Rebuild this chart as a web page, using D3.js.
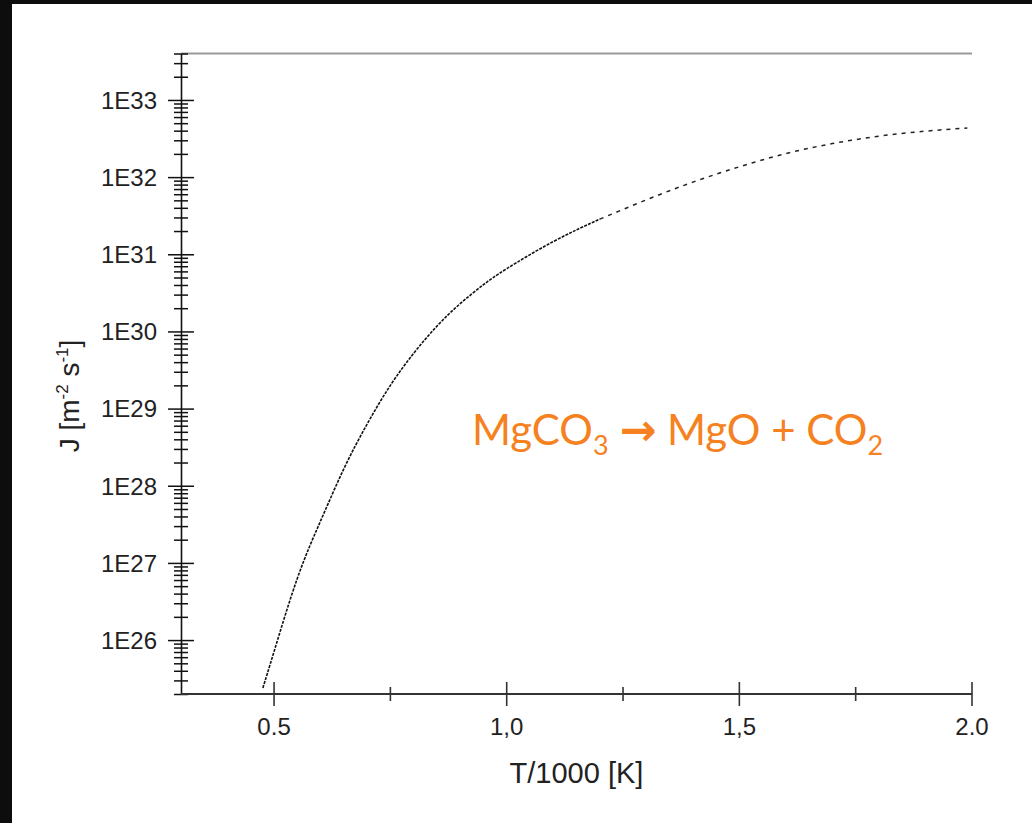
<!DOCTYPE html>
<html>
<head>
<meta charset="utf-8">
<script src="https://cdn.jsdelivr.net/npm/d3@7"></script>
<style>
  body { margin: 0; background: #fff; }
  svg text { font-family: "Liberation Sans", Arial, sans-serif; }
</style>
</head>
<body>
<svg width="1032" height="823"></svg>
<script>
// values (T/1000 in K, J in m^-2 s^-1)
const temps = [0.476, 0.50, 0.55, 0.60, 0.65, 0.70, 0.75, 0.80, 0.85, 0.90, 0.95, 1.00, 1.10, 1.20, 1.30, 1.40, 1.50, 1.60, 1.70, 1.80, 1.90, 1.99];
const flux = [2.4e25, 7.1e25, 6.3e26, 3.5e27, 1.66e28, 6.3e28, 2.0e29, 5.2e29, 1.17e30, 2.29e30, 4.03e30, 6.5e30, 1.46e31, 2.85e31, 5.07e31, 8.6e31, 1.36e32, 2.02e32, 2.72e32, 3.39e32, 3.94e32, 4.33e32];

const xMajor = [0.5, 1.0, 1.5, 2.0];
const xLabels = ['0.5', '1,0', '1,5', '2.0'];
const xMinor = [0.75, 1.25, 1.75];
const xDomain = [0.3, 2.0];
const yDomain = [2e25, 4e33];
const dashFrom = 1.2; // the curve gets sparser after this point

const svg = d3.select('svg');
const width = +svg.attr('width');
const height = +svg.attr('height');

// black frame on the left / top edge of the screenshot
svg.append('rect').attr('width', width).attr('height', height).attr('fill', '#fff');
svg.append('rect').attr('width', 12).attr('height', height).attr('fill', '#0d0d0d');
svg.append('rect').attr('width', width).attr('height', 4).attr('fill', '#0d0d0d');

const x = d3.scaleLinear().domain(xDomain).range([181, 972]);
const y = d3.scaleLog().domain(yDomain).range([694, 53.5]);

const isDecade = d => Math.abs(Math.log10(d) - Math.round(Math.log10(d))) < 1e-6;

// top frame line
svg.append('line')
    .attr('x1', x(xDomain[0])).attr('x2', x(xDomain[1]))
    .attr('y1', y(yDomain[1])).attr('y2', y(yDomain[1]))
    .attr('stroke', '#9a9a9a').attr('stroke-width', 2);

// y axis
const yAxis = svg.append('g')
    .attr('transform', `translate(${x(xDomain[0])},0)`)
    .call(d3.axisLeft(y)
        .tickValues(y.ticks())
        .tickFormat(d => isDecade(d) ? '1E' + Math.round(Math.log10(d)) : '')
        .tickSizeOuter(0));
yAxis.select('.domain').attr('stroke', '#111').attr('stroke-width', 1.6);
yAxis.selectAll('.tick line')
    .attr('x1', d => isDecade(d) ? 13 : 7)
    .attr('x2', d => isDecade(d) ? -13 : -7)
    .attr('stroke', '#111')
    .attr('stroke-width', 1.5);
yAxis.selectAll('.tick text')
    .attr('x', -24)
    .attr('dy', '0.35em')
    .style('font-family', '"Liberation Sans", Arial, sans-serif')
    .style('font-size', '24px')
    .attr('fill', '#222');

// x axis
const xAxisY = y(yDomain[0]);
const xAxis = svg.append('g').attr('transform', `translate(0,${xAxisY})`);
xAxis.append('line')
    .attr('x1', x(xDomain[0])).attr('x2', x(xDomain[1]))
    .attr('stroke', '#333').attr('stroke-width', 2);
xAxis.selectAll('.major')
    .data(xMajor)
    .enter()
    .append('line')
    .attr('class', 'major')
    .attr('x1', d => x(d)).attr('x2', d => x(d))
    .attr('y1', -12).attr('y2', 12)
    .attr('stroke', '#333').attr('stroke-width', 1.6);
xAxis.selectAll('.minor')
    .data(xMinor)
    .enter()
    .append('line')
    .attr('class', 'minor')
    .attr('x1', d => x(d)).attr('x2', d => x(d))
    .attr('y1', -7).attr('y2', 7)
    .attr('stroke', '#333').attr('stroke-width', 1.6);
xAxis.selectAll('.label')
    .data(xMajor)
    .enter()
    .append('text')
    .attr('class', 'label')
    .attr('x', d => x(d))
    .attr('y', 41)
    .attr('text-anchor', 'middle')
    .style('font-size', '24px')
    .attr('fill', '#222')
    .text((d, i) => xLabels[i]);

// axis titles
svg.append('text')
    .attr('x', (x(xDomain[0]) + x(xDomain[1])) / 2)
    .attr('y', 783)
    .attr('text-anchor', 'middle')
    .style('font-size', '29px')
    .attr('fill', '#222')
    .text('T/1000 [K]');

const yTitle = svg.append('text')
    .attr('transform', 'translate(79,396) rotate(-90)')
    .attr('text-anchor', 'middle')
    .style('font-size', '28px')
    .attr('fill', '#222');
yTitle.append('tspan').text('J [m');
yTitle.append('tspan').attr('dy', -11).style('font-size', '17px').text('-2');
yTitle.append('tspan').attr('dy', 11).text(' s');
yTitle.append('tspan').attr('dy', -11).style('font-size', '17px').text('-1');
yTitle.append('tspan').attr('dy', 11).text(']');

// curve
const points = temps.map((t, i) => ({ t, j: flux[i] }));
const line = d3.line()
    .x(d => x(d.t))
    .y(d => y(d.j))
    .curve(d3.curveNatural);

svg.append('path')
    .datum(points.filter(d => d.t <= dashFrom))
    .attr('d', line)
    .attr('fill', 'none')
    .attr('stroke', '#111')
    .attr('stroke-width', 1.6)
    .attr('stroke-dasharray', '3,1.2');

svg.append('path')
    .datum(points.filter(d => d.t >= dashFrom))
    .attr('d', line)
    .attr('fill', 'none')
    .attr('stroke', '#222')
    .attr('stroke-width', 1.5)
    .attr('stroke-dasharray', '4,5');

// reaction label
const reaction = svg.append('text')
    .attr('x', 472)
    .attr('y', 445)
    .style('font-family', 'Lato, "Open Sans", sans-serif')
    .style('font-size', '42px')
    .attr('fill', '#f68121');
reaction.append('tspan').text('MgCO');
reaction.append('tspan').attr('dy', 10).style('font-size', '27px').text('3');
reaction.append('tspan').attr('dy', -10).text(' ');
reaction.append('tspan')
    .style('font-family', '"DejaVu Sans", sans-serif')
    .style('font-weight', 'bold')
    .style('font-size', '44px')
    .text('\u2192');
reaction.append('tspan').text(' MgO + CO');
reaction.append('tspan').attr('dy', 10).style('font-size', '27px').text('2');
</script>
</body>
</html>
